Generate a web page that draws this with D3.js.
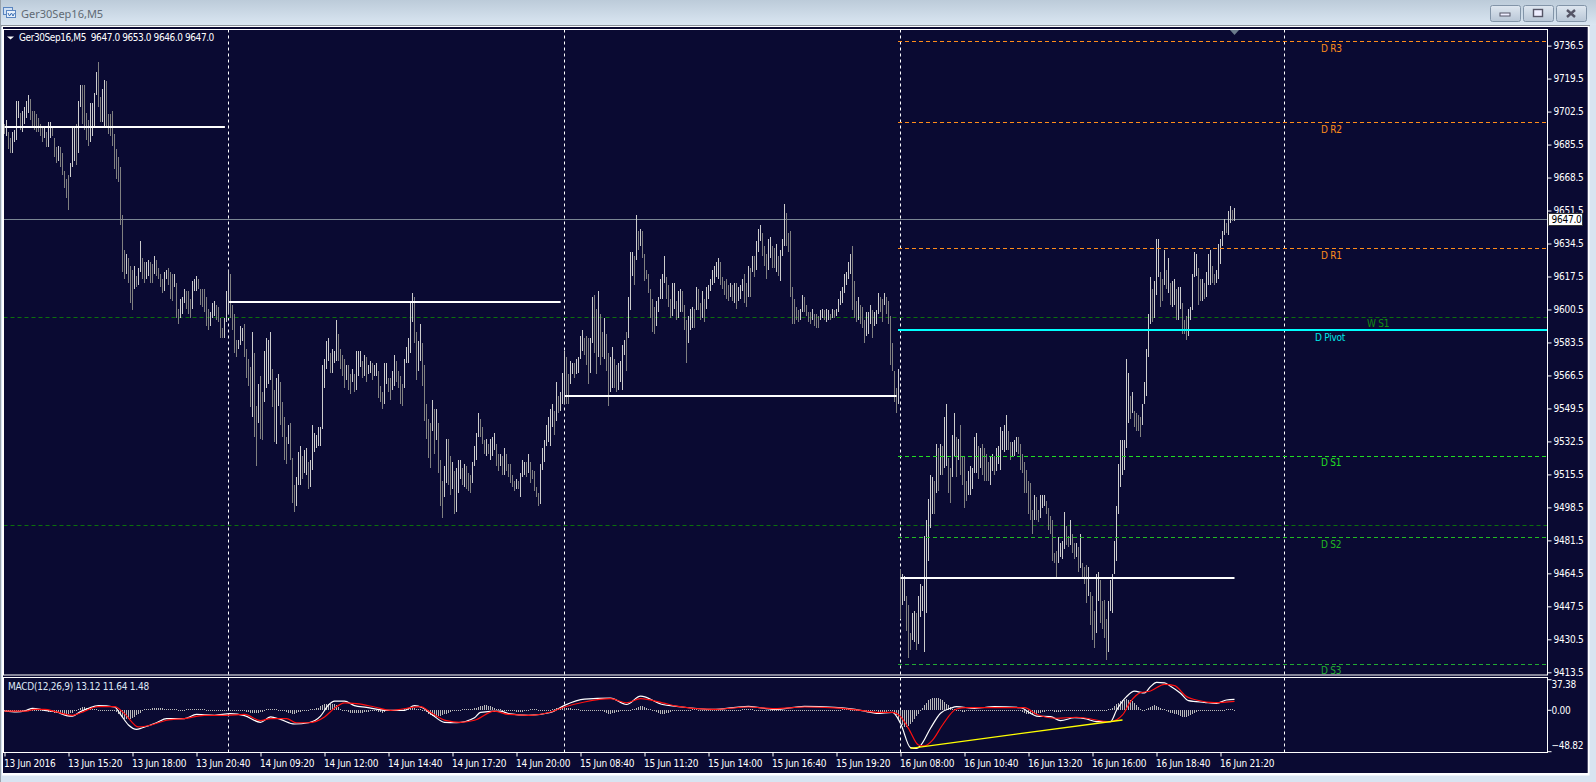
<!DOCTYPE html>
<html><head><meta charset="utf-8">
<script src="https://d3js.org/d3.v7.min.js"></script>
<style>html,body{margin:0;padding:0;background:#d8e4f1;overflow:hidden}
svg{display:block}
text{font-family:"DejaVu Sans Condensed","DejaVu Sans",sans-serif;font-size:10px;letter-spacing:-.25px;white-space:pre}
</style></head><body><div id="c"></div>
<script>
const title="Ger30Sep16,M5";
const legendText="Ger30Sep16,M5  9647.0 9653.0 9646.0 9647.0";
const macdText="MACD(12,26,9) 13.12 11.64 1.48";
const barHigh=[9696,9698,9692,9689,9692,9693,9708,9708,9702,9703,
9705,9708,9711,9709,9703,9703,9701,9699,9696,9694,
9694,9692,9697,9697,9695,9689,9684,9685,9684,9681,
9672,9668,9670,9676,9695,9695,9696,9708,9716,9716,
9716,9702,9698,9707,9707,9712,9723,9728,9710,9714,
9719,9718,9701,9701,9703,9691,9683,9679,9674,9649,
9631,9629,9627,9623,9621,9623,9618,9622,9636,9627,
9625,9625,9626,9625,9624,9628,9626,9622,9619,9616,
9620,9621,9622,9620,9619,9619,9614,9601,9606,9607,
9611,9610,9610,9606,9615,9616,9618,9616,9611,9611,
9611,9607,9601,9599,9604,9605,9603,9602,9596,9591,
9596,9610,9621,9619,9603,9598,9585,9585,9592,9591,
9593,9580,9575,9571,9589,9578,9551,9562,9566,9558,
9579,9586,9585,9589,9570,9559,9565,9567,9563,9553,
9545,9535,9541,9542,9524,9510,9514,9527,9530,9525,
9528,9529,9522,9523,9541,9537,9536,9540,9540,9572,
9575,9584,9586,9578,9580,9579,9595,9588,9580,9577,
9575,9572,9572,9567,9570,9567,9579,9579,9579,9574,
9577,9576,9572,9574,9573,9572,9573,9569,9561,9558,
9573,9573,9565,9565,9569,9577,9574,9569,9566,9562,
9575,9581,9586,9604,9609,9607,9589,9584,9593,9583,
9572,9552,9544,9542,9554,9549,9549,9542,9523,9512,
9520,9534,9534,9525,9522,9517,9519,9523,9523,9519,
9521,9520,9516,9515,9522,9530,9537,9547,9544,9540,
9533,9534,9531,9534,9535,9537,9531,9526,9526,9525,
9529,9526,9521,9521,9515,9512,9513,9512,9516,9523,
9522,9522,9526,9522,9518,9517,9509,9506,9521,9529,
9533,9541,9545,9549,9552,9548,9563,9556,9558,9568,
9579,9576,9567,9574,9573,9573,9575,9576,9587,9590,
9586,9587,9586,9586,9607,9608,9601,9610,9598,9589,
9596,9588,9578,9576,9581,9575,9572,9573,9574,9582,
9585,9589,9607,9630,9630,9628,9649,9641,9642,9641,
9629,9621,9619,9611,9606,9602,9605,9607,9616,9619,
9628,9617,9613,9606,9614,9614,9605,9610,9611,9610,
9603,9595,9597,9601,9602,9601,9612,9611,9604,9610,
9606,9612,9613,9616,9621,9623,9625,9627,9625,9617,
9615,9616,9613,9614,9613,9614,9614,9612,9613,9616,
9619,9614,9623,9622,9628,9628,9636,9642,9644,9640,
9633,9629,9637,9638,9633,9632,9634,9628,9631,9637,
9655,9650,9640,9641,9612,9606,9602,9600,9601,9608,
9607,9603,9599,9599,9601,9598,9598,9597,9600,9601,
9600,9601,9600,9598,9601,9600,9601,9606,9610,9612,
9619,9620,9625,9629,9633,9615,9605,9607,9603,9602,
9595,9599,9599,9603,9600,9599,9600,9609,9607,9606,
9609,9607,9605,9597,9583,9569,9560,9570,
9466,9464,9463,9453,9448,9434,9444,9445,9444,9453,9459,9458,
9484,9492,9503,9515,9514,9512,9531,9529,9531,9530,
9545,9552,9524,9519,9536,9547,9535,9534,9541,9525,
9525,9512,9517,9520,9519,9535,9537,9530,9529,9531,
9529,9526,9522,9525,9526,9525,9529,9530,9540,9538,
9541,9546,9538,9532,9532,9533,9535,9535,9531,9526,
9522,9518,9512,9511,9497,9505,9504,9497,9505,9505,
9505,9502,9498,9494,9492,9475,9476,9483,9480,9481,
9496,9489,9484,9492,9485,9480,9480,9478,9485,9470,
9468,9469,9468,9455,9453,9445,9464,9465,9461,9450,
9451,9441,9450,9461,9464,9481,9499,9521,9533,9533,
9533,9575,9568,9556,9558,9548,9547,9546,9545,9552,
9563,9580,9598,9617,9611,9615,9637,9637,9620,9616,
9631,9621,9627,9614,9615,9616,9611,9612,9612,9604,
9595,9597,9601,9602,9619,9630,9629,9622,9616,9616,
9614,9620,9629,9631,9623,9619,9621,9634,9637,9641,
9647,9645,9651,9654,9652,9653];
const barLow=[9691,9690,9683,9681,9681,9687,9688,9699,9693,9692,
9696,9699,9702,9698,9695,9693,9692,9692,9690,9687,
9689,9684,9684,9689,9690,9679,9676,9677,9674,9670,
9663,9658,9652,9669,9674,9677,9675,9681,9705,9696,
9693,9688,9685,9687,9690,9695,9711,9705,9697,9697,
9695,9695,9691,9690,9685,9673,9668,9666,9644,9620,
9616,9619,9614,9604,9600,9611,9612,9613,9620,9616,
9614,9616,9618,9614,9614,9619,9618,9616,9612,9609,
9610,9616,9613,9606,9605,9612,9596,9593,9596,9598,
9604,9601,9598,9596,9601,9610,9610,9611,9603,9602,
9599,9592,9590,9592,9596,9597,9595,9594,9586,9586,
9586,9594,9598,9596,9590,9578,9576,9580,9582,9584,
9576,9565,9561,9550,9545,9535,9520,9542,9534,9533,
9553,9560,9562,9564,9550,9532,9531,9551,9541,9535,
9523,9521,9531,9523,9501,9496,9499,9510,9510,9513,
9516,9515,9508,9509,9518,9527,9529,9530,9530,9539,
9560,9570,9574,9568,9568,9573,9574,9574,9570,9566,
9560,9564,9559,9557,9563,9558,9559,9566,9571,9565,
9566,9563,9567,9568,9564,9566,9566,9555,9553,9549,
9552,9562,9558,9554,9559,9561,9563,9560,9552,9551,
9560,9573,9573,9578,9594,9583,9564,9569,9574,9561,
9543,9534,9524,9519,9538,9526,9533,9516,9499,9493,
9504,9511,9510,9505,9508,9495,9496,9506,9513,9510,
9509,9508,9507,9506,9511,9520,9523,9535,9535,9531,
9526,9525,9526,9523,9525,9528,9520,9517,9520,9515,
9515,9517,9514,9511,9509,9507,9508,9508,9504,9514,
9515,9514,9516,9511,9513,9507,9504,9499,9500,9518,
9522,9530,9532,9530,9540,9536,9543,9547,9548,9552,
9552,9552,9552,9562,9567,9565,9567,9568,9575,9579,
9577,9572,9562,9568,9583,9578,9567,9576,9572,9576,
9575,9569,9551,9558,9560,9560,9558,9559,9563,9559,
9577,9569,9586,9600,9618,9613,9626,9631,9633,9627,
9615,9616,9609,9596,9589,9588,9592,9599,9606,9606,
9614,9606,9602,9596,9597,9601,9595,9596,9599,9599,
9590,9573,9583,9590,9591,9591,9600,9600,9595,9596,
9594,9601,9606,9610,9613,9614,9617,9616,9613,9611,
9608,9606,9605,9607,9605,9604,9601,9605,9606,9610,
9604,9602,9607,9607,9620,9617,9621,9630,9636,9628,
9623,9616,9621,9627,9622,9622,9620,9618,9615,9628,
9633,9633,9630,9607,9593,9593,9595,9594,9595,9599,
9599,9597,9594,9593,9595,9592,9591,9591,9595,9596,
9595,9594,9595,9595,9596,9596,9597,9599,9603,9604,
9609,9613,9616,9619,9600,9596,9594,9595,9593,9591,
9583,9587,9588,9593,9586,9592,9593,9598,9599,9594,
9603,9598,9593,9572,9569,9553,9547,9552,
9441,9448,9450,9435,9421,9425,9430,9429,9425,9428,9442,9445,
9424,9444,9471,9488,9495,9495,9506,9507,9515,9515,
9519,9520,9506,9501,9514,9525,9514,9523,9515,9510,
9498,9502,9505,9505,9508,9516,9516,9513,9519,9515,
9512,9512,9512,9510,9517,9515,9517,9521,9518,9528,
9527,9528,9528,9523,9525,9525,9527,9526,9518,9516,
9506,9506,9495,9492,9485,9492,9492,9491,9493,9498,
9499,9495,9487,9485,9471,9470,9462,9470,9473,9472,
9477,9479,9478,9479,9475,9472,9473,9465,9467,9462,
9459,9449,9453,9438,9430,9426,9434,9450,9439,9436,
9431,9420,9424,9445,9444,9464,9471,9495,9509,9515,
9518,9529,9542,9544,9547,9540,9538,9538,9535,9541,
9552,9556,9576,9593,9594,9596,9608,9617,9602,9605,
9613,9611,9609,9603,9602,9603,9595,9595,9601,9588,
9588,9585,9587,9595,9600,9617,9618,9603,9605,9605,
9606,9607,9613,9613,9614,9613,9614,9616,9624,9633,
9639,9640,9639,9645,9646,9646];

const priceTicks=[9736.5,9719.5,9702.5,9685.5,9668.5,9651.5,9634.5,9617.5,9600.5,9583.5,9566.5,9549.5,9532.5,9515.5,9498.5,9481.5,9464.5,9447.5,9430.5,9413.5];
const macdTicks=[37.38,0,-48.82];
const timeLabels=["13 Jun 2016","13 Jun 15:20","13 Jun 18:00","13 Jun 20:40","14 Jun 09:20","14 Jun 12:00","14 Jun 14:40","14 Jun 17:20","14 Jun 20:00","15 Jun 08:40","15 Jun 11:20","15 Jun 14:00","15 Jun 16:40","15 Jun 19:20","16 Jun 08:00","16 Jun 10:40","16 Jun 13:20","16 Jun 16:00","16 Jun 18:40","16 Jun 21:20"];
const separatorBars=[113,281,449,641];

const macdBars=[1,7,12,15,21,27,32,35,39,43,48,56,59,63,67,70,77,82,91,97,106,114,121,129,134,139,146,153,159,163,166,171,176,182,192,201,206,210,215,221,227,236,239,249,
253,263,274,281,291,304,312,319,330,337,355,373,386,401,416,
429,432,437,445,449,454,457,459,464,469,474,477,486,496,509,514,517,524,529,536,542,547,554,557,562,566,571,574,577,581,584,589,593,601,607,612,616];
const macdVals=[-1,-2,0,2.4,0,-2,-6.4,-7,-1.6,2.4,5.6,4,-5,-17.7,-23,-21,-15,-10,-10,-5,-6,-4,-6.4,-14.5,-8,-11,-16.5,-15,-7,6.4,11,11,5.6,3.6,0,0,5.6,3,-5.6,-14.5,-15,-9,-2.4,-1,
-4,-6,-2.6,6,13.4,14.6,7,17,7,4.8,1,4.8,1,4.8,3.6,
0,-1.5,-3.6,-2.4,-15.7,-45,-46,-42.6,-21.7,-3.6,2.4,4.4,2.4,4.4,3.2,-3.6,-7,-7.6,-12.5,-9,-10.4,-13.7,-13.7,0,16.5,23,21,28.5,33.7,33,29,20.5,11.6,9.6,8.4,12.4,13.1];
const signalBars=[1,12,16,21,27,35,39,48,56,61,68,74,82,91,101,112,121,129,134,142,147,153,161,166,171,177,186,194,209,214,222,229,236,246,
253,263,274,281,291,304,312,319,330,337,355,373,386,401,416,
429,437,445,449,453,458,461,465,470,477,482,496,511,517,527,537,554,560,564,569,574,581,586,592,597,606,616];
const signalVals=[-1,-1,1,1,-2,-6,-3,4.4,4.4,-4,-20,-18,-12,-10,-6,-6,-5,-12.5,-10,-10,-15,-15,-8,2.4,9,8,4,0,4.4,-2.4,-12.5,-14.5,-12,-1,
-5,-6,-2,4,10,14,9,14,9,5,1,4,2,4,3,
0,-2.4,-2.4,-7.6,-21.7,-41.8,-43,-36,-17.7,1.6,3.2,3.2,3.2,-4.8,-9.6,-8.4,-13.7,-5.6,10.4,21.3,23.3,31.3,29.7,16.5,12.4,9.2,10.8];
// histogram lumps: first bar of a run, then the values of that run; bars not listed sit on zero
const histStart=[21,38,49,56,71,92,121,132,141,154,172,188,201,212,230,255,275,300,315,326,345,370,395,420,436,445,460,479,509,526,553,572,582,612];
const histRuns=[[-1,-1,-1.5,-2,-2,-3,-3,-3,-3.5,-3.5,-4,-4,-4,-3.5,-3],[2,3,4,4,3,3,3,2,2,1],[-1,-1,-.5,-.5,-1],[-1,-2,-4,-6,-8,-10,-11,-11,-10,-9,-8,-6,-5,-3],[1,2,2,2,3,3,3,3,3,3,2,2,2,2,2,1,1],[1,1,1,1,1,1,1,1,1,1],[-1,-2,-2,-3,-3,-3,-3,-3,-2,-2],[1,2,2,2,2,1],[-1,-2,-3,-3,-4,-4,-3,-2,-2,-1],[1,2,2,3,3,5,6,7,7,8,8,8,7,6,4,2],[-1,-2,-3,-3,-3,-3,-3,-3,-3,-2,-2,-2,-1,-1,-1,-1],[-2,-2,-3,-2,-1,-1],[1,2,3,3,3,3,2,2,1],[-2,-4,-6,-7,-8,-8,-7,-7,-6,-5,-4,-3,-2],[1,1,1,2,2,2,3,3,4,5,5,6,6,5,5,4,3,2,1,1],[-1,-1,-2,-2,-2,-2,-1,-1,-1,1,1,1,1],[1,2,3,3,4,4,4,3,3,3,2,2,1,1],[-1,-2,-3,-4,-4,-3,-3,-2,-2,-1],[1,2,3,4,5,5,4,3,2,1],[-1,-2,-3,-4,-4,-4,-3,-3,-2,-1],[1,1,1],[1,1,2,2,2,1],[-1,-1,-1],[1,1,1,1],[-1,-1,-2,-2,-2,-2,-2],[-1,-3,-6,-10,-14,-18,-20,-20,-19,-17,-14,-11,-7,-4],[3,6,9,12,14,15,15,15,15,14,12,10,8,6,4,2,1],[-1,-2,-2,-1,-1,-1],[-1,-2,-3,-4,-5,-5,-5,-4,-4,-3,-3,-2,-2,-1],[-2,-2,-2,-2,-1,-1],[1,2,3,5,7,9,11,13,13,14,13,12,11,9,6,4,2],[2,3,4,5,6,5,4,3,2,1],[-1,-2,-3,-3,-4,-5,-6,-7,-8,-8,-8,-7,-6,-5,-3,-2],[1,1,1,1]];

const sessionPrice=[9694.7,9604.3,9556,9462.2];
const sessionFrom=[1,113.3,281.1,449];
const sessionTo=[111.2,279.1,447.1,616];
const pivotNames=["D R3","D R2","D R1","D Pivot","D S1","D S2","D S3"];
const pivotPrices=[9738.7,9697,9632,9590,9524.8,9483,9418];
const pivotColors=["#ff8c1a","#ff8c1a","#ff8c1a","#00ffff","#22dd22","#22bb22","#22aa33"];
const pivotLabelY=[48,129,255,337,462,544,670];
const weekNames=["W S1","W S2"];
const weekPrices=[9596.4,9489.2];
const bidPrice=9647;
const trendBars=[454,560];
const trendVals=[-45.8,-11.7];

const W=1596,H=782,L=3.5,R=1547.5,T=29.5,B=675,MT=677.5,MB=752.5;
const x=d3.scaleLinear().domain([1,616]).range([4.5,1234.5]);
const y=d3.scaleLinear().domain([9736.5,9413.5]).range([45.6,672.3]);
const ym=d3.scaleLinear().domain([0,-48.82]).range([710.3,750.8]);
const svg=d3.select("#c").append("svg").attr("width",W).attr("height",H);
const defs=svg.append("defs");
const g=defs.append("linearGradient").attr("id","tb").attr("x1",0).attr("x2",0).attr("y1",0).attr("y2",1);
g.append("stop").attr("offset",0).attr("stop-color","#bccbd9");
g.append("stop").attr("offset",1).attr("stop-color","#dae6f2");
const bg=defs.append("linearGradient").attr("id","btn").attr("x1",0).attr("x2",0).attr("y1",0).attr("y2",1);
bg.append("stop").attr("offset",0).attr("stop-color","#dfe7f0");
bg.append("stop").attr("offset",1).attr("stop-color","#b8c6d6");
defs.append("clipPath").attr("id","mainClip").append("rect").attr("x",L).attr("y",T).attr("width",R-L).attr("height",B-T);

// window chrome
svg.append("rect").attr("width",W).attr("height",H).attr("fill","#d8e4f1");
svg.append("rect").attr("width",W).attr("height",25).attr("fill","url(#tb)");
svg.append("rect").attr("x",0).attr("y",25).attr("width",1590).attr("height",1.5).attr("fill","#8a9199");
svg.append("rect").attr("x",0).attr("y",0).attr("width",1).attr("height",H).attr("fill","#9aa3ac");
svg.append("rect").attr("x",2).attr("y",26).attr("width",1587.5).attr("height",749.5).attr("fill","#fff");
svg.append("rect").attr("x",3).attr("y",27).attr("width",1584.7).attr("height",746).attr("fill","#0a0a32");
// icon
const ic=svg.append("g");
ic.append("rect").attr("x",3.5).attr("y",7.5).attr("width",9).attr("height",7).attr("fill","#cfe0f5").attr("stroke","#5a85c0");
ic.append("rect").attr("x",6.5).attr("y",10.5).attr("width",9).attr("height",7).attr("fill","#e8f0fa").attr("stroke","#5a85c0");
ic.append("path").attr("d","M8 13 l1.5 3 l2-3 l1.5 3 l1.5-3").attr("fill","none").attr("stroke","#3a6fb5");
svg.append("text").attr("x",21).attr("y",18).attr("fill","#606a74").style("font-family","'Noto Sans'").style("font-size","11px").style("letter-spacing","0").text(title);
// window buttons
[1490,1523,1556].forEach((bx,i)=>{
  svg.append("rect").attr("x",bx+.5).attr("y",5.5).attr("width",30).attr("height",16).attr("rx",2).attr("fill","url(#btn)").attr("stroke","#8294a8");
  if(i==0) svg.append("rect").attr("x",bx+10).attr("y",13).attr("width",10).attr("height",3).attr("fill","#eef").attr("stroke","#556");
  if(i==1) svg.append("rect").attr("x",bx+10.5).attr("y",9.5).attr("width",9).attr("height",7).attr("fill","#eef").attr("stroke","#556").attr("stroke-width",1.4);
  if(i==2) svg.append("path").attr("d",`M${bx+11} 10 l8 7 M${bx+19} 10 l-8 7`).attr("stroke","#556").attr("stroke-width",2.4);
});

// separators
const sepAll=svg.append("g");
separatorBars.forEach(b=>{
  [[T,B],[MT,MB]].forEach(([a,c])=>sepAll.append("line").attr("x1",x(b)).attr("x2",x(b)).attr("y1",a).attr("y2",c)
    .attr("stroke","#fff").attr("stroke-width",1).attr("stroke-dasharray","3 3"));
});

// horizontal levels
const plot=svg.append("g").attr("clip-path","url(#mainClip)");
const crisp=v=>Math.round(v)+.5;
plot.selectAll(".w").data(weekPrices).join("line").attr("x1",L).attr("x2",R).attr("y1",d=>crisp(y(d))).attr("y2",d=>crisp(y(d)))
  .attr("stroke","#0c700c").attr("stroke-dasharray","4 3");
plot.append("line").attr("x1",L).attr("x2",R).attr("y1",crisp(y(bidPrice))).attr("y2",crisp(y(bidPrice))).attr("stroke","#7b8794");

// price bars
const barIndex=d3.range(barHigh.length);
const mid=i=>(barHigh[i]+barLow[i])/2;
plot.selectAll(".bar").data(barIndex).join("line").attr("class","bar")
  .attr("x1",i=>x(i+1)).attr("x2",i=>x(i+1)).attr("y1",i=>y(barHigh[i])).attr("y2",i=>y(barLow[i]))
  .attr("stroke",i=>(i>0&&mid(i)>=mid(i-1))?"#cccccc":"#808080").attr("stroke-width",1).attr("shape-rendering","crispEdges");

// pivot levels
pivotPrices.forEach((p,i)=>{
  const isP=pivotNames[i]=="D Pivot";
  plot.append("line").attr("x1",898).attr("x2",R).attr("y1",isP?Math.round(y(p)):crisp(y(p))).attr("y2",isP?Math.round(y(p)):crisp(y(p)))
   .attr("stroke",pivotColors[i]).attr("stroke-width",isP?2:1).attr("stroke-dasharray",isP?null:"4 3");
  svg.append("text").attr("x",isP?1315:1321).attr("y",pivotLabelY[i]+3.5).attr("fill",isP?"#00e8e8":pivotColors[i]).text(pivotNames[i]);
});
svg.append("text").attr("x",1367).attr("y",327).attr("fill","#138a13").text(weekNames[0]);

// session lines
sessionPrice.forEach((p,i)=>{
  plot.append("line").attr("x1",x(sessionFrom[i])).attr("x2",x(sessionTo[i])).attr("y1",Math.round(y(p))).attr("y2",Math.round(y(p))).attr("stroke","#fff").attr("stroke-width",2);
});

// frames
[[T,B],[MT,MB]].forEach(([a,c])=>svg.append("rect").attr("x",L).attr("y",a).attr("width",R-L).attr("height",c-a).attr("fill","none").attr("stroke","#fff"));

// price axis
const ax=svg.append("g").attr("transform",`translate(${R},0)`).call(d3.axisRight(y).tickValues(priceTicks).tickFormat(d3.format(".1f")).tickSize(4).tickPadding(2));
ax.select(".domain").remove();
ax.selectAll("line").attr("stroke","#fff");
ax.selectAll("text").attr("fill","#fff").style("font-family","'DejaVu Sans Condensed','DejaVu Sans'").style("font-size","10px");

// bid box
svg.append("rect").attr("x",1548.5).attr("y",Math.round(y(bidPrice))-5.5).attr("width",34).attr("height",12).attr("fill","#fff").attr("stroke","#333");
svg.append("text").attr("x",1551.5).attr("y",y(bidPrice)+4).attr("fill","#000").text(d3.format(".1f")(bidPrice));

// top marker
svg.append("path").attr("d",d3.line()([[x(616)-4.5,30],[x(616)+4.5,30],[x(616),35]])+"Z").attr("fill","#6b7b8c");

// legends
svg.append("path").attr("d","M7 36.5 h7 l-3.5 3 Z").attr("fill","#fff");
svg.append("text").attr("x",19).attr("y",41).attr("fill","#fff").style("letter-spacing","-.42px").text(legendText);
svg.append("text").attr("x",8).attr("y",690).attr("fill","#dfe6f5").text(macdText);

// histogram
const hist=new Array(barHigh.length).fill(0);
histStart.forEach((s,k)=>histRuns[k].forEach((v,j)=>{if(s+j-1<hist.length)hist[s+j-1]=v;}));
svg.append("g").selectAll("line").data(hist).join("line")
  .attr("x1",(d,i)=>x(i+1)).attr("x2",(d,i)=>x(i+1))
  .attr("y1",d=>ym(0)-(d===0?.5:0)).attr("y2",d=>d===0?ym(0)+.5:ym(d))
  .attr("stroke","#b9b9b9").attr("shape-rendering","crispEdges");

// macd lines
const ln=(bs,vs,c,w)=>svg.append("path").attr("d",d3.line().x(d=>x(d[0])).y(d=>ym(d[1])).curve(d3.curveMonotoneX)(d3.zip(bs,vs))).attr("fill","none").attr("stroke",c).attr("stroke-width",w);
ln(macdBars,macdVals,"#ffffff",1.2);
ln(signalBars,signalVals,"#ff1010",1.2);
svg.append("path").attr("d",d3.line().x(d=>x(d[0])).y(d=>ym(d[1]))(d3.zip(trendBars,trendVals))).attr("stroke","#ffff00").attr("stroke-width",1.3).attr("fill","none");

// macd axis: the extreme labels sit inside the panel
const my=svg.append("g").attr("transform",`translate(${R},0)`);
macdTicks.forEach((v,i)=>{
  const ty=i==0?679.7:(i==1?710.3:751.7), ly=[684.3,710.3,745.3][i];
  my.append("line").attr("x1",0).attr("x2",4).attr("y1",ty).attr("y2",ty).attr("stroke","#fff");
  my.append("text").attr("x",4).attr("y",ly+3.5).attr("fill","#fff").text(d3.format(".2f")(v));
});

// time axis
const tickBars=timeLabels.map((d,i)=>1+32*i);
const at=svg.append("g").attr("transform",`translate(0,${MB})`).call(d3.axisBottom(x).tickValues(tickBars).tickFormat((d,i)=>timeLabels[i]).tickSize(4).tickPadding(3));
at.select(".domain").remove();
at.selectAll("line").attr("stroke","#fff");
at.selectAll("text").attr("fill","#fff").attr("text-anchor","start").attr("dx",-1).style("font-family","'DejaVu Sans Condensed','DejaVu Sans'").style("font-size","10px");
</script></body></html>
